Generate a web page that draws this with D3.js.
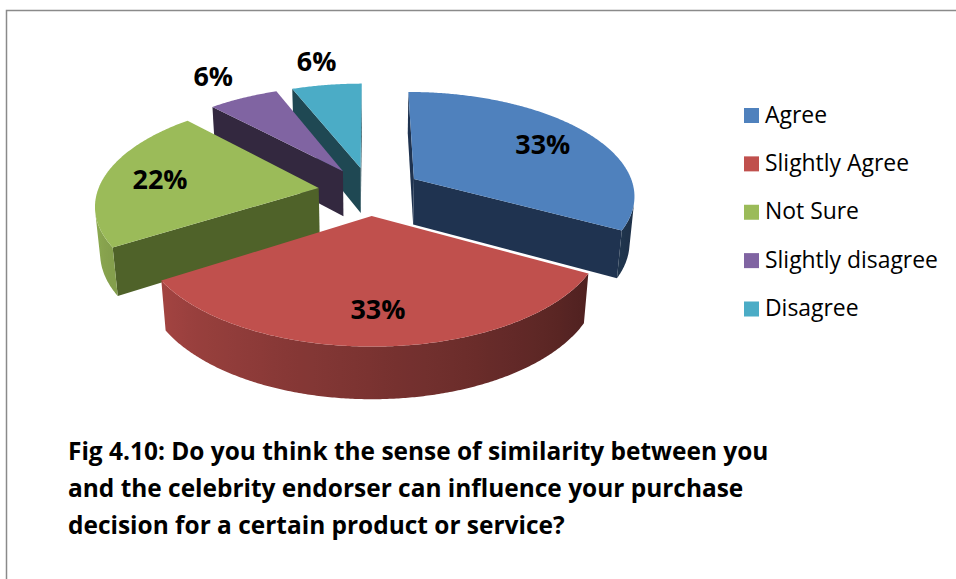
<!DOCTYPE html>
<html>
<head>
<meta charset="utf-8">
<script src="https://cdn.jsdelivr.net/npm/d3@7"></script>
<style>
  html, body { margin: 0; padding: 0; background: #ffffff; }
  svg { display: block; }
</style>
</head>
<body>
<svg id="chart" width="956" height="579"></svg>
<script>
// ---- data ----
const categories = ["Agree", "Slightly Agree", "Not Sure", "Slightly disagree", "Disagree"];
const values = [33, 33, 22, 6, 6];
const percentLabels = ["33%", "33%", "22%", "6%", "6%"];
const titleLines = [
  "Fig 4.10: Do you think the sense of similarity between you",
  "and the celebrity endorser can influence your purchase",
  "decision for a certain product or service?"
];

// ---- palette ----
const topColors  = ["#4F81BD", "#C0504D", "#9BBB59", "#8064A2", "#4BACC6"];
const sideColors = ["#1F3350", "#6A2B29", "#4F6229", "#33283F", "#1F4853"];

const W = 956, H = 579;
const svg = d3.select("#chart");
const defs = svg.append("defs");
const FONT = "'Open Sans', 'Liberation Sans', sans-serif";

// scale a text's font size so that its rendered width equals `target`
function fitWidth(sel, size, target) {
  sel.attr("font-size", size);
  const len = sel.node().getComputedTextLength();
  const s = size * target / len;
  sel.attr("font-size", s);
  return s;
}

// frame
svg.append("path")
  .attr("d", `M6.5,${H + 2} V10.5 H${W + 2}`)
  .attr("fill", "none")
  .attr("stroke", "#8a8a8a")
  .attr("stroke-width", 1.5);

// ---- 3D perspective projection of a tilted pie ----
const view = {
  cx: 370, cy: 191,   // screen position of the pie centre
  scale: 221,         // pixels per unit radius
  tilt: 27.8 * Math.PI / 180,
  dist: 6,            // camera distance in radii
  explode: 0.235,     // slice offset in radii
  depth: 0.24         // pie thickness in radii
};
const sinA = Math.sin(view.tilt), cosA = Math.cos(view.tilt);
const camera = [0, view.dist * cosA, view.dist * sinA];

// world: X right, Y towards viewer, Z up
function project(X, Y, Z) {
  const v = Y * sinA - Z * cosA;
  const w = -Y * cosA - Z * sinA;
  const k = view.scale * view.dist / (view.dist + w);
  return [view.cx + X * k, view.cy + v * k];
}

const pie = d3.pie().sort(null).value(d => d).startAngle(0).endAngle(2 * Math.PI);
const arcs = pie(values).map((a, i) => {
  const mid = (a.startAngle + a.endAngle) / 2;
  return {
    i, a0: a.startAngle, a1: a.endAngle, mid,
    ox: view.explode * Math.sin(mid),
    oy: -view.explode * Math.cos(mid)
  };
});

const rim = (s, t, z) => [s.ox + Math.sin(t), s.oy - Math.cos(t), z];
const line = d3.line();
const toPath = pts3 => line(pts3.map(p => project(p[0], p[1], p[2]))) + "Z";

function facing(P, n) {
  return (camera[0] - P[0]) * n[0] + (camera[1] - P[1]) * n[1] + (camera[2] - P[2]) * n[2] > 0;
}

// brightness of the curved wall depending on its outward direction
const wallShade = d3.scaleLinear()
  .domain([119 * Math.PI / 180, 238 * Math.PI / 180])
  .range([0.41, 0.85]);
function wallColor(i, t) {
  const f = Math.max(0.39, Math.min(0.9, wallShade(t)));
  const c = d3.rgb(topColors[i]);
  return d3.rgb(c.r * f, c.g * f, c.b * f).formatHex();
}

const gPie = svg.append("g");
const order = arcs.slice().sort((p, q) => p.oy - q.oy);
const STEP = Math.PI / 360;

order.forEach(s => {
  const g = gPie.append("g");
  const h = -view.depth;
  const apexTop = [s.ox, s.oy, 0], apexBot = [s.ox, s.oy, h];

  // radial faces
  const nStart = [-Math.cos(s.a0), -Math.sin(s.a0), 0];
  if (facing(apexTop, nStart)) {
    g.append("path")
      .attr("d", toPath([apexTop, rim(s, s.a0, 0), rim(s, s.a0, h), apexBot]))
      .attr("fill", sideColors[s.i]);
  }
  const nEnd = [Math.cos(s.a1), Math.sin(s.a1), 0];
  if (facing(apexTop, nEnd)) {
    g.append("path")
      .attr("d", toPath([apexTop, rim(s, s.a1, 0), rim(s, s.a1, h), apexBot]))
      .attr("fill", sideColors[s.i]);
  }

  // curved outer wall: visible part only, shaded with a horizontal gradient
  const n = Math.max(2, Math.ceil((s.a1 - s.a0) / STEP));
  const ts = d3.range(n + 1).map(k => s.a0 + (s.a1 - s.a0) * k / n);
  const vis = ts.filter(t => facing(rim(s, t, 0), [Math.sin(t), -Math.cos(t), 0]));
  if (vis.length > 1) {
    const topEdge = vis.map(t => rim(s, t, 0));
    const botEdge = vis.slice().reverse().map(t => rim(s, t, h));
    const xs = vis.map(t => project(...rim(s, t, 0))[0]);
    const x0 = d3.min(xs), x1 = d3.max(xs);
    const gid = "wall" + s.i;
    const grad = defs.append("linearGradient")
      .attr("id", gid)
      .attr("gradientUnits", "userSpaceOnUse")
      .attr("x1", x0).attr("x2", x1).attr("y1", 0).attr("y2", 0);
    const stops = vis.map((t, k) => ({ o: (xs[k] - x0) / Math.max(1e-6, x1 - x0), c: wallColor(s.i, t) }))
      .sort((p, q) => p.o - q.o);
    stops.filter((d, k) => k % 6 === 0 || k === stops.length - 1).forEach(d => {
      grad.append("stop").attr("offset", d.o).attr("stop-color", d.c);
    });
    g.append("path")
      .attr("d", toPath(topEdge.concat(botEdge)))
      .attr("fill", `url(#${gid})`);
  }

  // top face
  const topPts = [apexTop].concat(ts.map(t => rim(s, t, 0)));
  g.append("path")
    .attr("d", toPath(topPts))
    .attr("fill", topColors[s.i]);
});

// ---- value labels ----
const labels = svg.append("g")
  .attr("font-family", FONT)
  .attr("font-weight", 700)
  .attr("fill", "#000");
let labelSize = null;
arcs.forEach(s => {
  const r = values[s.i] < 10 ? 1.35 : 0.74;
  const p = project(s.ox + r * Math.sin(s.mid), s.oy - r * Math.cos(s.mid), 0);
  const t = labels.append("text")
    .attr("x", p[0]).attr("y", p[1])
    .attr("text-anchor", "middle")
    .attr("dominant-baseline", "central")
    .text(percentLabels[s.i]);
  if (labelSize === null) labelSize = fitWidth(t, 27, 55);
  else t.attr("font-size", labelSize);
});

// ---- legend ----
const legend = svg.append("g").attr("font-family", FONT).attr("fill", "#000");
const legendY = d3.scalePoint().domain(categories).range([115.5, 309]);
const legendTexts = [];
categories.forEach((c, i) => {
  const y = legendY(c);
  legend.append("rect")
    .attr("x", 744).attr("y", y - 7.5)
    .attr("width", 15).attr("height", 15)
    .attr("fill", topColors[i]);
  legendTexts.push(legend.append("text")
    .attr("x", 765).attr("y", y + 7)
    .text(c));
});
const legendSize = fitWidth(legendTexts[3], 20, 173);
legendTexts.forEach(t => t.attr("font-size", legendSize));

// ---- caption ----
const caption = svg.append("g")
  .attr("font-family", FONT)
  .attr("font-weight", 700)
  .attr("fill", "#000");
const captionTexts = titleLines.map((t, i) =>
  caption.append("text")
    .attr("x", 68).attr("y", 460 + i * 37)
    .text(t));
const captionSize = fitWidth(captionTexts[0], 22, 701);
captionTexts.forEach(t => t.attr("font-size", captionSize));
</script>
</body>
</html>
